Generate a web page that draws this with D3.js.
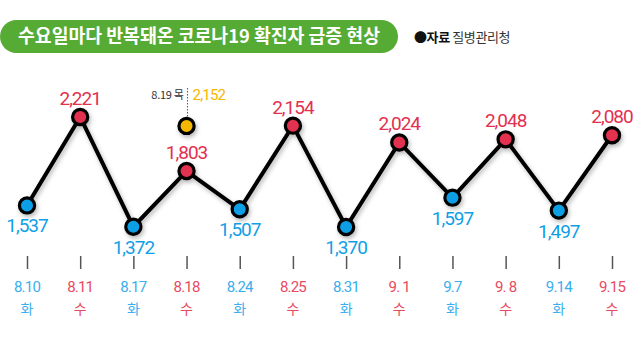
<!DOCTYPE html>
<html><head><meta charset="utf-8">
<script src="https://cdn.jsdelivr.net/npm/d3@7"></script>
<style>
html,body{margin:0;padding:0;background:#fff;}
svg{display:block;}
</style></head>
<body>
<script>
const dates = ["8.10","8.11","8.17","8.18","8.24","8.25","8.31","9. 1","9.7","9. 8","9.14","9.15"];
const weekdays = ["화","수","화","수","화","수","화","수","화","수","화","수"];
const cases = [1537,2221,1372,1803,1507,2154,1370,2024,1597,2048,1497,2080];
const extraDate = "8.18";
const extraLabel = "8.19 목";
const extraValue = 2152;
const titleText = "수요일마다 반복돼온 코로나19 확진자 급증 현상";
const sourceBold = "자료";
const sourceText = "질병관리청";

const W = 640, H = 338;
const BLUE = "#0f9fe6", RED = "#e3304f", YELLOW = "#f6b700";
const BLUE_T = "#3aaeee", RED_T = "#e84a5f";
const kr = "'Noto Sans CJK KR','Noto Sans',sans-serif";
const num = "Roboto,'Noto Sans',sans-serif";

const svg = d3.select("body").append("svg").attr("width", W).attr("height", H);
const defs = svg.append("defs");
const f = defs.append("filter").attr("id","sh").attr("x","-20%").attr("y","-20%").attr("width","140%").attr("height","140%");
f.append("feDropShadow").attr("dx",1.5).attr("dy",2.5).attr("stdDeviation",2.2).attr("flood-color","#000").attr("flood-opacity",0.28);

// title pill
svg.append("rect").attr("x",0).attr("y",20).attr("width",398).attr("height",33).attr("rx",16.5).attr("fill","#55ab33");
svg.append("text").attr("x",18).attr("y",43).attr("fill","#fff").attr("font-family",kr)
  .attr("font-weight",700).attr("font-size",19).attr("textLength",362).attr("lengthAdjust","spacingAndGlyphs").text(titleText);

// source
const src = svg.append("text").attr("x",414).attr("y",41.5).attr("font-family",kr).attr("font-size",13).attr("letter-spacing",-0.4);
src.append("tspan").attr("fill","#111").attr("font-weight",700).text("●" + sourceBold + " ");
src.append("tspan").attr("fill","#333").attr("font-weight",400).text(sourceText);

const x = d3.scalePoint().domain(dates).range([27, 612]);
const y = d3.scaleLinear().domain([1370, 2221]).range([227, 117]);
const wk = d => d === "수";

// axis ticks
const axis = d3.axisBottom(x).tickSize(13).tickFormat("");
const gA = svg.append("g").attr("transform","translate(0,256)").call(axis);
gA.select(".domain").remove();
gA.selectAll(".tick line").attr("stroke","#555").attr("stroke-width",1.5);

// date labels
svg.append("g").selectAll("text").data(dates).join("text")
  .attr("x", d => x(d)).attr("y", 292).attr("text-anchor","middle")
  .attr("font-family", num).attr("font-size",15).attr("letter-spacing",-0.8)
  .attr("fill", (d,i) => wk(weekdays[i]) ? RED_T : BLUE_T).text(d => d);
svg.append("g").selectAll("text").data(weekdays).join("text")
  .attr("x", (d,i) => x(dates[i])).attr("y", 314).attr("text-anchor","middle")
  .attr("font-family", kr).attr("font-size",14)
  .attr("fill", d => wk(d) ? RED_T : BLUE_T).text(d => d);

// extra point (8.19 Thu)
const ex = x(extraDate), ey = y(extraValue);
svg.append("line").attr("x1",ex+1).attr("x2",ex+1).attr("y1",88).attr("y2",ey-8)
  .attr("stroke","#555").attr("stroke-width",1).attr("stroke-dasharray","1.5,1.5");
svg.append("text").attr("x",ex-3).attr("y",99).attr("text-anchor","end").attr("font-family",kr)
  .attr("font-size",11).attr("letter-spacing",-0.3).attr("fill","#333").text(extraLabel);
svg.append("text").attr("x",ex+6).attr("y",100).attr("font-family",num)
  .attr("font-size",15).attr("letter-spacing",-0.8).attr("fill",YELLOW).text(d3.format(",")(extraValue));

const gLine = svg.append("g").attr("filter","url(#sh)");
gLine.append("path").datum(cases)
  .attr("d", d3.line().x((d,i) => x(dates[i])).y(d => y(d)))
  .attr("fill","none").attr("stroke","#000").attr("stroke-width",4).attr("stroke-linejoin","miter");
gLine.append("circle").attr("cx",ex).attr("cy",ey).attr("r",7.6).attr("fill",YELLOW).attr("stroke","#000").attr("stroke-width",3.2);
gLine.selectAll("circle.pt").data(cases).join("circle").attr("class","pt")
  .attr("cx",(d,i) => x(dates[i])).attr("cy", d => y(d)).attr("r",7.6)
  .attr("fill",(d,i) => wk(weekdays[i]) ? RED : BLUE).attr("stroke","#000").attr("stroke-width",3.2);

// value labels
svg.append("g").selectAll("text").data(cases).join("text")
  .attr("x",(d,i) => x(dates[i])).attr("y",(d,i) => wk(weekdays[i]) ? y(d) - 12 : y(d) + 27)
  .attr("text-anchor","middle").attr("font-family",num).attr("font-size",19).attr("letter-spacing",-1)
  .attr("fill",(d,i) => wk(weekdays[i]) ? RED : BLUE).text(d => d3.format(",")(d));
</script>
</body></html>
